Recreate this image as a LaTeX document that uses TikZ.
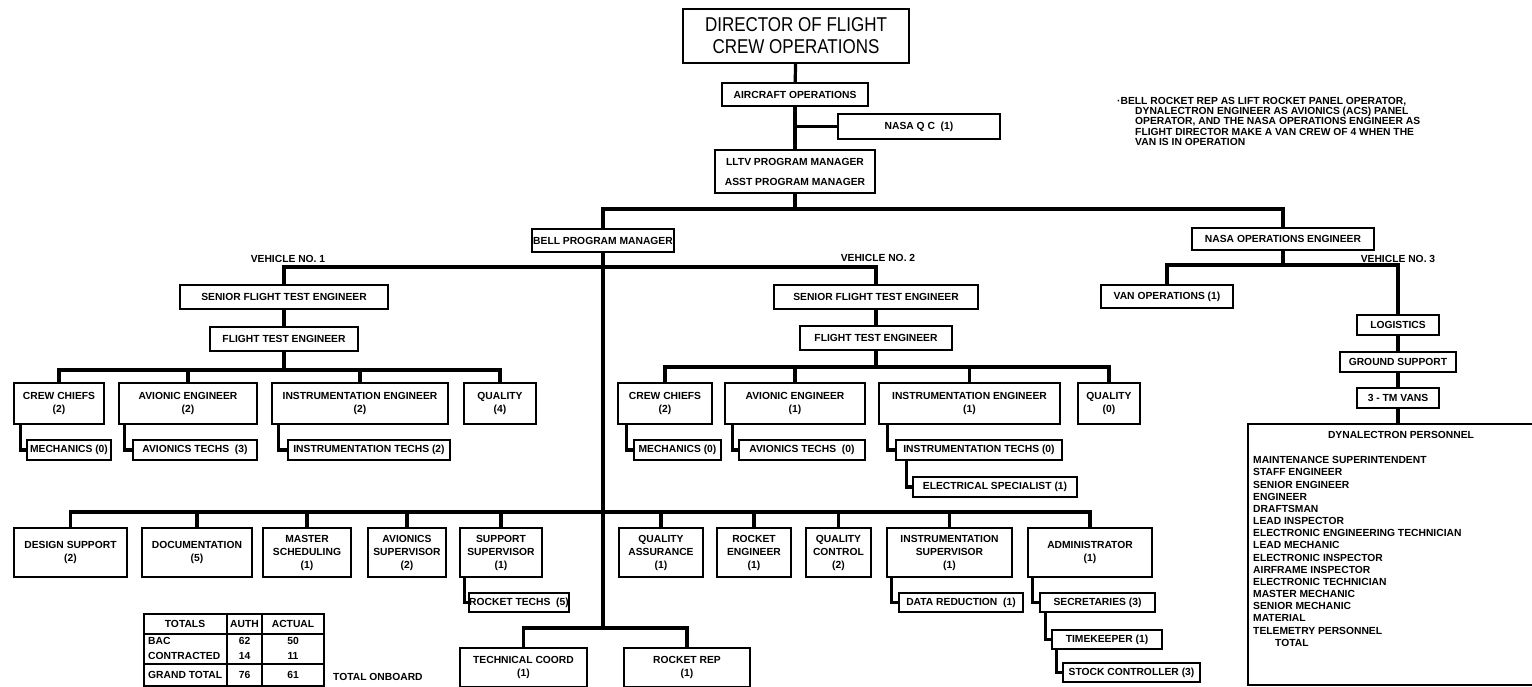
\documentclass[tikz,border=0pt]{standalone}
\usepackage{fontspec}
\setmainfont{Liberation Sans}
\newfontfamily\titlefont[FakeStretch=0.85]{Liberation Sans}
\tikzset{
  box/.style={draw, line width=1.5pt, inner sep=0pt, align=center, font=\bfseries\fontsize{10.3}{13}\selectfont},
  conn/.style={line width=3.2pt},
  lbl/.style={font=\bfseries\fontsize{10.3}{12}\selectfont, inner sep=0pt},
  tline/.style={line width=1.3pt}
}
\newcommand\obox[7][]{\node[box,#1,minimum width={#5-#3},minimum height={#6-#4}] (#2) at ({(#3+#5)/2},{(#4+#6)/2}) {#7};}
\begin{document}
\begin{tikzpicture}[x=1pt,y=-1pt]
\useasboundingbox (0,0) rectangle (1532,687);
\clip (0,0) rectangle (1532,687);
% top chain
\obox[font=\titlefont\fontsize{20}{22}\selectfont]{title}{683}{9}{909}{63}{DIRECTOR OF FLIGHT\\CREW OPERATIONS}
\obox{aircraft}{722}{83}{868}{106}{AIRCRAFT OPERATIONS}
\obox{qc}{838}{114}{1000}{139}{NASA Q C\ \ (1)}
\obox{lltv}{715}{150}{875}{193}{LLTV PROGRAM MANAGER\\[7pt]ASST PROGRAM MANAGER}
\obox{bell}{532}{229}{674}{252}{BELL PROGRAM MANAGER}
\obox{nasaops}{1192}{228}{1374}{250}{NASA OPERATIONS ENGINEER}
\obox{vanops}{1101}{285}{1233}{308}{VAN OPERATIONS (1)}
\obox{logistics}{1357}{315}{1439}{335}{LOGISTICS}
\obox{ground}{1340}{352}{1456}{372}{GROUND SUPPORT}
\obox{tmvans}{1357}{388}{1439}{408}{3 - TM VANS}
\obox{dyn}{1248}{424}{1560}{685}{}
% note
\node[lbl, anchor=north west, align=left, font=\bfseries\fontsize{10.3}{10.3}\selectfont] (note) at (1117,97)
 {·BELL ROCKET REP AS LIFT ROCKET PANEL OPERATOR,\\
  \hspace*{18pt}DYNALECTRON ENGINEER AS AVIONICS (ACS) PANEL\\
  \hspace*{18pt}OPERATOR, AND THE NASA OPERATIONS ENGINEER AS\\
  \hspace*{18pt}FLIGHT DIRECTOR MAKE A VAN CREW OF 4 WHEN THE\\
  \hspace*{18pt}VAN IS IN OPERATION};
% vehicle labels
\node[lbl] (veh1) at (288,259) {VEHICLE NO. 1};
\node[lbl] (veh2) at (878,258) {VEHICLE NO. 2};
\node[lbl] (veh3) at (1398,259) {VEHICLE NO. 3};
% vehicle 1
\obox{sfte1}{180}{285}{388}{309}{SENIOR FLIGHT TEST ENGINEER}
\obox{fte1}{210}{327}{358}{351}{FLIGHT TEST ENGINEER}
\obox{crew1}{14}{383}{104}{424}{CREW CHIEFS\\(2)}
\obox{avion1}{119}{383}{257}{424}{AVIONIC ENGINEER\\(2)}
\obox{instr1}{272}{383}{448}{424}{INSTRUMENTATION ENGINEER\\(2)}
\obox{qual1}{464}{383}{536}{424}{QUALITY\\(4)}
\obox{mech1}{27}{440}{111}{460}{MECHANICS (0)}
\obox{avtech1}{133}{440}{257}{460}{AVIONICS TECHS\ \ (3)}
\obox{intech1}{288}{440}{450}{460}{INSTRUMENTATION TECHS (2)}
% vehicle 2
\obox{sfte2}{774}{285}{978}{309}{SENIOR FLIGHT TEST ENGINEER}
\obox{fte2}{800}{326}{952}{350}{FLIGHT TEST ENGINEER}
\obox{crew2}{618}{383}{712}{424}{CREW CHIEFS\\(2)}
\obox{avion2}{725}{383}{865}{424}{AVIONIC ENGINEER\\(1)}
\obox{instr2}{879}{383}{1060}{424}{INSTRUMENTATION ENGINEER\\(1)}
\obox{qual2}{1078}{383}{1140}{424}{QUALITY\\(0)}
\obox{mech2}{634}{440}{721}{460}{MECHANICS (0)}
\obox{avtech2}{739}{440}{865}{460}{AVIONICS TECHS\ \ (0)}
\obox{intech2}{896}{440}{1062}{460}{INSTRUMENTATION TECHS (0)}
\obox{elec}{913}{477}{1077}{497}{ELECTRICAL SPECIALIST (1)}
% staff row
\obox{design}{14}{528}{127}{577}{DESIGN SUPPORT\\(2)}
\obox{docu}{142}{528}{252}{577}{DOCUMENTATION\\(5)}
\obox{master}{263}{528}{351}{577}{MASTER\\SCHEDULING\\(1)}
\obox{avsup}{368}{528}{446}{577}{AVIONICS\\SUPERVISOR\\(2)}
\obox{suppsup}{460}{528}{542}{577}{SUPPORT\\SUPERVISOR\\(1)}
\obox{rtech}{472}{593}{566}{612}{ROCKET TECHS\ \ (5)}
\obox{qa}{619}{528}{703}{577}{QUALITY\\ASSURANCE\\(1)}
\obox{reng}{717}{528}{791}{577}{ROCKET\\ENGINEER\\(1)}
\obox{qcon}{806}{528}{871}{577}{QUALITY\\CONTROL\\(2)}
\obox{instrsup}{887}{528}{1012}{577}{INSTRUMENTATION\\SUPERVISOR\\(1)}
\obox{admin}{1028}{528}{1152}{577}{ADMINISTRATOR\\(1)}
\obox{datared}{899}{593}{1023}{612}{DATA REDUCTION\ \ (1)}
\obox{secr}{1040}{593}{1155}{612}{SECRETARIES (3)}
\obox{timek}{1052}{630}{1162}{649}{TIMEKEEPER (1)}
\obox{stock}{1063}{663}{1200}{682}{STOCK CONTROLLER (3)}
\obox{techcoord}{460}{648}{587}{687}{TECHNICAL COORD\\(1)}
\obox{rrep}{624}{648}{750}{687}{ROCKET REP\\(1)}
% dynalectron list
\node[lbl] (dyntitle) at (1401,435) {DYNALECTRON PERSONNEL};
\node[lbl, anchor=north west, align=left, font=\bfseries\fontsize{10.3}{12.17}\selectfont] (dynlist) at (1253,456.3)
 {MAINTENANCE SUPERINTENDENT\\STAFF ENGINEER\\SENIOR ENGINEER\\ENGINEER\\DRAFTSMAN\\LEAD INSPECTOR\\
  ELECTRONIC ENGINEERING TECHNICIAN\\LEAD MECHANIC\\ELECTRONIC INSPECTOR\\AIRFRAME INSPECTOR\\
  ELECTRONIC TECHNICIAN\\MASTER MECHANIC\\SENIOR MECHANIC\\MATERIAL\\TELEMETRY PERSONNEL\\\hspace*{22pt}TOTAL};
% totals table
\draw[tline] (144,614) rectangle (324,686);
\draw[tline] (144,634) -- (324,634) (144,664) -- (324,664) (227,614) -- (227,686) (262,614) -- (262,686);
\node[lbl] (tt1) at (185,624) {TOTALS};
\node[lbl] (tt2) at (244.5,624) {AUTH};
\node[lbl] (tt3) at (293,624) {ACTUAL};
\node[lbl, anchor=west] (tb1) at (148,641) {BAC};
\node[lbl, anchor=west] (tc1) at (148,656) {CONTRACTED};
\node[lbl] (tb2) at (244.5,641) {62};
\node[lbl] (tc2) at (244.5,656) {14};
\node[lbl] (tb3) at (293,641) {50};
\node[lbl] (tc3) at (293,656) {11};
\node[lbl, anchor=west] (tg1) at (148,675) {GRAND TOTAL};
\node[lbl] (tg2) at (244.5,675) {76};
\node[lbl] (tg3) at (293,675) {61};
\node[lbl, anchor=west] (onboard) at (333,677) {TOTAL ONBOARD};
% connectors top
\draw[conn] (title) -- (aircraft);
\draw[conn] (aircraft) -- (lltv);
\coordinate (qcj) at (795,126.5);
\draw[conn] (qcj) -- (qc.west);
\coordinate (tbar) at (795,209);
\draw[conn] (lltv) -- (tbar);
\draw[conn] (bell.north) |- (tbar);
\draw[conn] (tbar) -| (nasaops.north);
\coordinate (trunkend) at (603,628);
\draw[conn] (bell) -- (trunkend);
\coordinate (vbar) at (603,267);
\draw[conn] (sfte1.north) |- (vbar) -| (sfte2.north);
% nasa side
\coordinate (nbar) at (0,265);
\draw[conn] (nasaops) -- (nasaops.south |- nbar);
\draw[conn] (vanops.north) |- (logistics.north |- nbar) -- (logistics.north);
\draw[conn] (logistics) -- (ground);
\draw[conn] (ground) -- (tmvans);
\draw[conn] (tmvans) -- (tmvans.south |- dyn.north);
% vehicle 1
\coordinate (v1bar) at (0,370);
\draw[conn] (sfte1) -- (fte1);
\draw[conn] (fte1) -- (fte1.south |- v1bar);
\draw[conn] (crew1.north) |- (qual1.north |- v1bar) -- (qual1.north);
\draw[conn] (avion1) -- (avion1.north |- v1bar);
\draw[conn] (instr1) -- (instr1.north |- v1bar);
\draw[conn] ([xshift=7pt]crew1.south west) |- (mech1.west);
\draw[conn] ([xshift=6pt]avion1.south west) |- (avtech1.west);
\draw[conn] ([xshift=7pt]instr1.south west) |- (intech1.west);
% vehicle 2
\coordinate (v2bar) at (0,367);
\draw[conn] (sfte2) -- (fte2);
\draw[conn] (fte2) -- (fte2.south |- v2bar);
\draw[conn] (crew2.north) |- (qual2.north |- v2bar) -- (qual2.north);
\draw[conn] (avion2) -- (avion2.north |- v2bar);
\draw[conn] (instr2) -- (instr2.north |- v2bar);
\draw[conn] ([xshift=9pt]crew2.south west) |- (mech2.west);
\draw[conn] ([xshift=8pt]avion2.south west) |- (avtech2.west);
\draw[conn] ([xshift=9pt]instr2.south west) |- (intech2.west);
\draw[conn] ([xshift=11pt]intech2.south west) |- (elec.west);
% staff
\coordinate (sbar) at (0,512);
\draw[conn] (design.north) |- (admin.north |- sbar) -- (admin.north);
\foreach \n in {docu,master,avsup,suppsup,qa,reng,qcon,instrsup}
  \draw[conn] (\n) -- (\n.north |- sbar);
\draw[conn] ([xshift=5pt]suppsup.south west) |- (rtech.west);
\draw[conn] ([xshift=5pt]instrsup.south west) |- (datared.west);
\draw[conn] ([xshift=5pt]admin.south west) |- (secr.west);
\draw[conn] ([xshift=6pt]secr.south west) |- (timek.west);
\draw[conn] ([xshift=5pt]timek.south west) |- (stock.west);
% bottom
\coordinate (bbar) at (0,628);
\draw[conn] (techcoord.north) |- (rrep.north |- bbar) -- (rrep.north);
\end{tikzpicture}
\end{document}
